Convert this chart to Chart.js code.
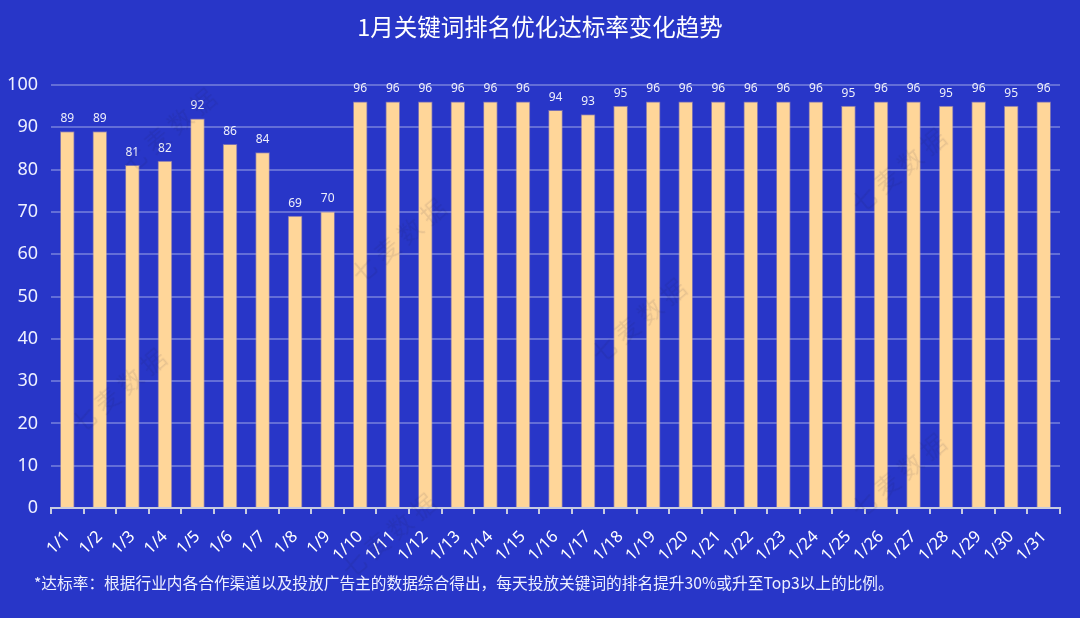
<!DOCTYPE html>
<html>
<head>
<meta charset="utf-8">
<script src="https://cdn.jsdelivr.net/npm/chart.js@4"></script>
<style>
  html, body { margin: 0; padding: 0; background: #2836c8; }
  #wrap { position: relative; width: 1080px; height: 618px; overflow: hidden; background: #2836c8;
          font-family: "Noto Sans CJK SC", "Noto Sans", sans-serif; }
  #title { position: absolute; top: 11px; left: 0; width: 1080px; text-align: center; line-height: 30px;
           color: #ffffff; font-size: 23.5px; }
  #note { position: absolute; top: 572px; left: 34px; line-height: 22px; color: #eef0ff; font-size: 15.7px; }
  .wm { position: absolute; color: rgba(20, 20, 60, 0.10); font-size: 24px; transform: rotate(-40deg);
        letter-spacing: 6px; pointer-events: none; }
  canvas { position: absolute; left: 0; top: 0; }
</style>
</head>
<body>
<div id="wrap">
  <canvas id="barChart" width="1080" height="618"></canvas>
  <div id="title">1月关键词排名优化达标率变化趋势</div>
  <div id="note">*达标率：根据行业内各合作渠道以及投放广告主的数据综合得出，每天投放关键词的排名提升30%或升至Top3以上的比例。</div>
  <span class="wm" style="left:110px; top:110px;">七麦数据</span>
  <span class="wm" style="left:340px; top:220px;">七麦数据</span>
  <span class="wm" style="left:580px; top:300px;">七麦数据</span>
  <span class="wm" style="left:840px; top:150px;">七麦数据</span>
  <span class="wm" style="left:60px; top:370px;">七麦数据</span>
  <span class="wm" style="left:840px; top:455px;">七麦数据</span>
  <span class="wm" style="left:330px; top:515px;">七麦数据</span>
</div>
<script>
var DAYS = ['1/1','1/2','1/3','1/4','1/5','1/6','1/7','1/8','1/9','1/10','1/11','1/12','1/13','1/14','1/15','1/16',
            '1/17','1/18','1/19','1/20','1/21','1/22','1/23','1/24','1/25','1/26','1/27','1/28','1/29','1/30','1/31'];
var RATES = [89, 89, 81, 82, 92, 86, 84, 69, 70, 96, 96, 96, 96, 96, 96, 94,
             93, 95, 96, 96, 96, 96, 96, 96, 95, 96, 96, 95, 96, 95, 96];
var Y_MIN = 0;
var Y_MAX = 100;
var Y_STEP = 10;

// value labels above bars
var valueLabels = {
	id: 'valueLabels',
	afterDatasetsDraw: function(chart) {
		var ctx = chart.ctx;
		var meta = chart.getDatasetMeta(0);
		ctx.save();
		ctx.fillStyle = 'rgba(255,255,255,0.92)';
		ctx.font = '12px "Noto Sans", sans-serif';
		ctx.textAlign = 'center';
		ctx.textBaseline = 'bottom';
		meta.data.forEach(function(bar, i) {
			ctx.fillText(RATES[i], bar.x, bar.y - 7);
		});
		ctx.restore();
	}
};

var ctx = document.getElementById('barChart').getContext('2d');
var barChart = new Chart(ctx, {
	type: 'bar',
	data: {
		labels: DAYS,
		datasets: [{
			data: RATES,
			backgroundColor: '#ffd699',
			borderColor: 'rgba(200,170,160,0.5)',
			borderWidth: 1,
			barThickness: 14
		}]
	},
	options: {
		responsive: false,
		animation: false,
		layout: { padding: { top: 85, right: 20, left: 0, bottom: 0 } },
		plugins: {
			legend: { display: false },
			tooltip: { enabled: false }
		},
		scales: {
			x: {
				offset: true,
				grid: {
					offset: true,
					drawOnChartArea: false,
					drawTicks: true,
					tickLength: 6,
					color: '#c8cbe0',
					lineWidth: 2
				},
				border: { color: '#c8cbe0', width: 2 },
				ticks: {
					color: '#ffffff',
					font: { size: 16.5, family: '"Noto Sans", sans-serif' },
					minRotation: 45,
					maxRotation: 45,
					autoSkip: false,
					padding: 13
				},
				afterFit: function(scale) { scale.height = 110; }
			},
			y: {
				min: Y_MIN,
				max: Y_MAX,
				grid: {
					color: 'rgba(255,255,255,0.28)',
					lineWidth: 2,
					drawTicks: false
				},
				border: { display: false },
				ticks: {
					stepSize: Y_STEP,
					color: '#eef0ff',
					font: { size: 18, family: '"Noto Sans", sans-serif' },
					padding: 13
				},
				afterFit: function(scale) { scale.width = 51; }
			}
		}
	},
	plugins: [valueLabels]
});
</script>
</body>
</html>
